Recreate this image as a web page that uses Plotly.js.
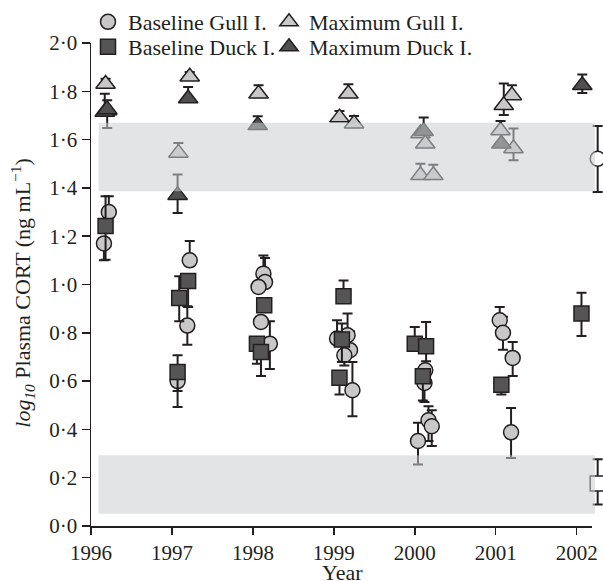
<!DOCTYPE html>
<html><head><meta charset="utf-8">
<script src="https://cdn.plot.ly/plotly-3.0.1.min.js"></script>
<style>html,body{margin:0;padding:0;background:#fff}</style>
</head><body><div id="chart" style="width:603px;height:581px"></div>
<script>
// Baseline Gull I. (circles)
const gullBaseYear = [1996.22,1996.16,1997.22,1997.19,1997.07,1998.13,1998.15,1998.07,1998.10,1998.21,1999.17,1999.04,1999.20,1999.13,1999.23,2000.13,2000.12,2000.17,2000.21,2000.04,2001.05,2001.09,2001.21,2001.19];
const gullBaseVal  = [1.30,1.17,1.10,0.83,0.60,1.045,1.01,0.99,0.845,0.755,0.79,0.776,0.728,0.707,0.562,0.645,0.592,0.438,0.413,0.352,0.852,0.80,0.696,0.388];
const gullBaseUp   = [0.065,0,0.08,0.08,0,0.075,0.10,0,0,0.093,0.09,0.076,0.078,0,0.117,0,0,0.058,0.066,0.076,0.055,0.066,0.066,0.101];
const gullBaseDown = [0,0.07,0,0.079,0.107,0,0,0,0,0.105,0,0,0,0.042,0.108,0,0.079,0.086,0.082,0.097,0,0.07,0.075,0.106];

// Baseline Duck I. (squares)
const duckBaseYear = [1996.18,1997.20,1997.09,1997.07,1998.14,1998.05,1998.10,1999.12,1999.10,1999.07,2000.00,2000.14,2000.10,2001.07,2002.06];
const duckBaseVal  = [1.242,1.014,0.944,0.638,0.914,0.755,0.72,0.951,0.772,0.614,0.755,0.744,0.62,0.585,0.88];
const duckBaseUp   = [0.123,0,0.09,0.069,0,0,0,0.066,0.066,0,0.069,0.101,0,0,0.086];
const duckBaseDown = [0.139,0.107,0.096,0.079,0,0.083,0.099,0,0.093,0.069,0,0.062,0.10,0.041,0.093];

// Maximum Gull I. (light triangles)
const gullMaxYear = [1996.18,1996.20,1997.22,1997.08,1998.07,1999.18,1999.07,1999.25,2000.07,2000.13,2000.07,2000.23,2001.20,2001.10,2001.06,2001.22];
const gullMaxVal  = [1.83,1.72,1.86,1.545,1.79,1.79,1.691,1.666,1.625,1.583,1.452,1.452,1.783,1.742,1.638,1.563];
const gullMaxUp   = [0.022,0,0.02,0.041,0.035,0.039,0.027,0.032,0,0,0.048,0.044,0.042,0.09,0.039,0.083];
const gullMaxDown = [0,0.072,0,0,0,0,0,0,0,0,0,0,0,0.04,0,0.049];

// Maximum Duck I. (dark triangles)
const duckMaxYear = [1996.17,1996.20,1997.20,1997.07,1998.06,2000.11,2001.07,2002.07];
const duckMaxVal  = [1.714,1.725,1.77,1.37,1.659,1.635,1.583,1.825];
const duckMaxUp   = [0.076,0.038,0.048,0.086,0.038,0.056,0,0.045];
const duckMaxDown = [0,0,0,0.074,0,0,0,0.032];

// Unlabelled reference points at the right edge (open symbols)
const refCircleYear = [2002.26], refCircleVal = [1.521], refCircleUp = [0.135], refCircleDown = [0.138];
const refSquareYear = [2002.26], refSquareVal = [0.176], refSquareUp = [0.10], refSquareDown = [0.087];

// Shaded reference ranges [x0, x1, y0, y1]
const bandUpper = [1996.094, 2002.226, 1.386, 1.670];
const bandLower = [1996.094, 2002.226, 0.051, 0.293];

const xTickVals = [1996,1997,1998,1999,2000,2001,2002];
const xTickText = ['1996','1997','1998','1999','2000','2001','2002'];
const yTickVals = [0,0.2,0.4,0.6,0.8,1.0,1.2,1.4,1.6,1.8,2.0];
const yTickText = ['0·0','0·2','0·4','0·6','0·8','1·0','1·2','1·4','1·6','1·8','2·0'];

const ink = '#231f20';
const serif = 'Liberation Serif, Times New Roman, serif';

const W = 603, H = 581;
const mL = 90.7, mR = 0, mT = 42.5, mB = 55.3;
const axisEndPx = 592;                       // where the drawn x axis stops
const plotW = W - mL - mR;
const xDomEnd = (axisEndPx - mL) / plotW;
const xRange = [1996, 2002.19];
const x2Range = [xRange[0], xRange[0] + (xRange[1] - xRange[0]) / xDomEnd];

function errY(up, down){
  return {type:'data', symmetric:false, array:up, arrayminus:down, color:ink, thickness:2, width:5};
}
function mk(x,y,up,down,name,symbol,fill,size,legend,show,xa){
  return {type:'scatter', mode:'markers', x:x, y:y, name:name, legend:legend, showlegend:show,
    xaxis:xa||'x', yaxis:'y', cliponaxis:false, error_y:errY(up,down),
    marker:{symbol:symbol, size:size, color:fill, line:{color:ink, width:1.5}}, hoverinfo:'x+y'};
}

const traces = [
  mk(refCircleYear,refCircleVal,refCircleUp,refCircleDown,'ref circle','circle','#ffffff',15,'legend',false,'x2'),
  mk(refSquareYear,refSquareVal,refSquareUp,refSquareDown,'ref square','square','#ffffff',15,'legend',false,'x2'),
  mk(gullBaseYear,gullBaseVal,gullBaseUp,gullBaseDown,'Baseline Gull I.','circle','#c8c8c9',15,'legend',true),
  mk(duckBaseYear,duckBaseVal,duckBaseUp,duckBaseDown,'Baseline Duck I.','square','#555556',15,'legend3',true),
  mk(gullMaxYear,gullMaxVal,gullMaxUp,gullMaxDown,'Maximum Gull I.','triangle-up','#c8c8c9',17,'legend2',true),
  mk(duckMaxYear,duckMaxVal,duckMaxUp,duckMaxDown,'Maximum Duck I.','triangle-up','#505051',17,'legend4',true)
];

function band(b){
  return {type:'rect', layer:'above', xref:'x2', yref:'y', x0:b[0], x1:b[1], y0:b[2], y1:b[3],
    fillcolor:'rgb(203,205,209)', opacity:0.55, line:{width:0}};
}

const legendFont = {family:serif, size:22, color:ink};
function leg(pxLeft, pyMid){
  return {xref:'container', yref:'container', x:pxLeft/W, y:1-pyMid/H, xanchor:'left', yanchor:'middle',
    bgcolor:'rgba(0,0,0,0)', font:legendFont, itemwidth:30, borderwidth:0};
}
const plotH = H - mT - mB;
const layout = {
  width:W, height:H,
  margin:{l:mL, r:mR, t:mT, b:mB, autoexpand:false},
  paper_bgcolor:'#fff', plot_bgcolor:'rgba(0,0,0,0)',
  font:{family:serif, size:21, color:ink},
  showlegend:true,
  legend:leg(88, 22), legend3:leg(88, 47),
  legend2:leg(269, 22), legend4:leg(269, 47),
  xaxis:{domain:[0,xDomEnd], range:xRange, tickvals:xTickVals, ticktext:xTickText, showgrid:false, zeroline:false,
    automargin:false, tickangle:0, anchor:'y',
    showline:true, linecolor:ink, linewidth:1.5, ticks:'outside', ticklen:7, tickwidth:1.5, tickcolor:ink,
    tickfont:{family:serif, size:21, color:ink}},
  xaxis2:{domain:[0,1], range:x2Range, visible:false, anchor:'y', automargin:false, showgrid:false, zeroline:false},
  yaxis:{range:[0,2], tickvals:yTickVals, ticktext:yTickText, showgrid:false, zeroline:false,
    automargin:false, anchor:'x',
    showline:true, linecolor:ink, linewidth:1.5, ticks:'outside', ticklen:8, tickwidth:1.5, tickcolor:ink,
    tickfont:{family:serif, size:21, color:ink}},
  annotations:[
    {text:'Year', xref:'paper', yref:'paper', x:(342.5-mL)/plotW, y:-(572-(H-mB))/plotH,
     xanchor:'center', yanchor:'middle', showarrow:false, font:{family:serif, size:22, color:ink}},
    {text:'<i>log</i><sub><i>10</i></sub> Plasma CORT (ng mL<sup>−1</sup>)', xref:'paper', yref:'paper',
     x:(22-mL)/plotW, y:((H-mB)-292)/plotH, textangle:-90,
     xanchor:'center', yanchor:'middle', showarrow:false, font:{family:serif, size:22, color:ink}}
  ],
  shapes:[band(bandUpper), band(bandLower)]
};

Plotly.newPlot('chart', traces, layout, {displayModeBar:false, staticPlot:true});
</script>
</body></html>
